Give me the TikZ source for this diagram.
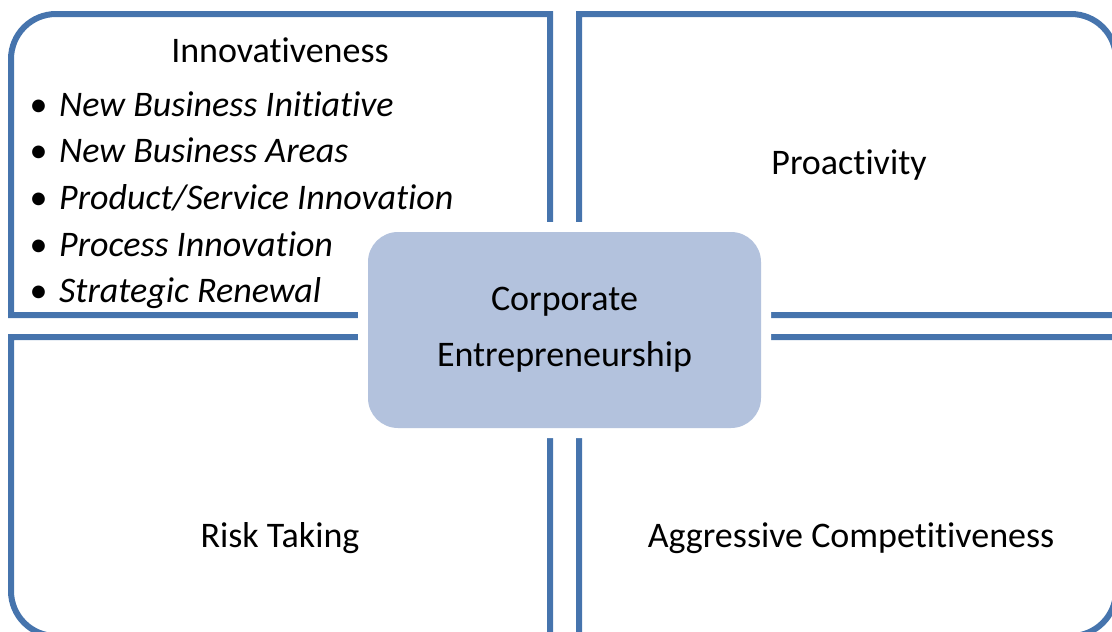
\documentclass[tikz,border=0pt]{standalone}
\usepackage{fontspec}
\setmainfont{Carlito}[Ligatures=NoCommon]
\definecolor{qblue}{HTML}{4674AD}
\definecolor{cfill}{HTML}{B3C2DD}
\begin{document}
\begin{tikzpicture}[x=1pt,y=-1pt,
	quad/.style={draw=qblue,line width=6pt},
	lbl/.style={font=\fontsize{36}{56}\selectfont,inner sep=0pt}]
	\useasboundingbox (0,0) rectangle (1112,632);
	\clip (0,0) rectangle (1112,632);
	% four quadrants, only the outer corner rounded
	\draw[quad] (550,315) -- (11,315) -- (11,59) arc[start angle=180,end angle=270,radius=45] -- (550,14) -- cycle;
	\draw[quad] (579,315) -- (579,14) -- (1071,14) arc[start angle=270,end angle=360,radius=45] -- (1116,315) -- cycle;
	\draw[quad] (550,337) -- (11,337) -- (11,591) arc[start angle=180,end angle=90,radius=45] -- (550,636) -- cycle;
	\draw[quad] (579,337) -- (1116,337) -- (1116,591) arc[start angle=0,end angle=90,radius=45] -- (579,636) -- cycle;
	% centre
	\node (CE) at (564.5,330) [lbl,align=center,fill=cfill,rounded corners=30pt,
		minimum width=393pt,minimum height=196pt,
		preaction={draw=white,line width=20pt}] {\raisebox{-2pt}{Corporate}\\\raisebox{-2pt}{Entrepreneurship}};
	\node (I) at (280,62.7) [lbl,anchor=base] {Innovativeness};
	\foreach \t [count=\i] in {New Business Initiative,New Business Areas,
		Product/Service Innovation,Process Innovation,Strategic Renewal}
		\node (d\i) at (38.5,{116+46.7*(\i-1)}) [lbl,anchor=base] {\textbullet}
		node (t\i) at (59,{116+46.7*(\i-1)}) [lbl,anchor=base west] {\textit{\t}};
	\node (P) at (849,174.5) [lbl,anchor=base] {Proactivity};
	\node (R) at (280,547) [lbl,anchor=base] {Risk Taking};
	\node (A) at (851,547) [lbl,anchor=base] {Aggressive Competitiveness};
\end{tikzpicture}
\end{document}
